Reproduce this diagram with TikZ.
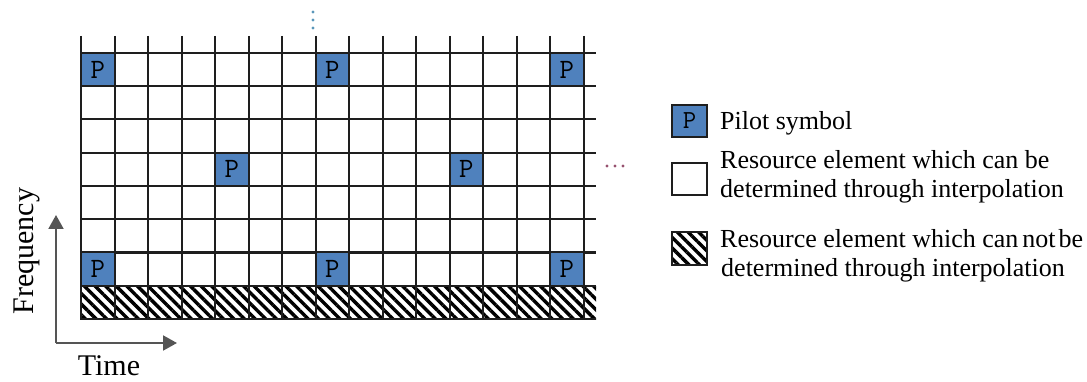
\documentclass[tikz,border=0pt]{standalone}
\usepackage{fontspec}
\setmainfont{Liberation Serif}
\usetikzlibrary{patterns.meta,arrows.meta}
\definecolor{pilotblue}{RGB}{79,129,189}
\definecolor{gridc}{RGB}{30,30,30}
\definecolor{axisc}{RGB}{85,85,85}
\definecolor{dotA}{RGB}{90,150,185}
\definecolor{dotB}{RGB}{150,80,110}
\tikzset{
  gridline/.style={draw=gridc,line width=2pt},
  pilot/.style={draw=gridc,line width=2pt,fill=pilotblue,minimum width=33.5pt,minimum height=33.25pt,inner sep=0pt,font=\ttfamily\fontsize{28}{28}\selectfont},
  hatch/.style={pattern={Lines[angle=-45,distance=7.5pt,line width=3.4pt]}},
  legbox/.style={draw=gridc,line width=2pt,minimum width=35pt,minimum height=32pt,inner sep=0pt},
  legtext/.style={anchor=base west,inner sep=0pt,font=\fontsize{26}{30}\selectfont},
  axislabel/.style={anchor=base,inner sep=0pt,font=\fontsize{30}{30}\selectfont},
  axis/.style={draw=axisc,line width=2pt,-{Triangle[length=14pt,width=15pt]}},
  dot/.style={circle,inner sep=0pt,minimum size=3.2pt}
}
\begin{document}
\begin{tikzpicture}[x=1pt,y=-1pt]
\useasboundingbox (0,0) rectangle (1087,382);
% hatched bottom row
\fill[hatch] (81,286) rectangle (596,319);
% grid
\foreach \i in {0,...,15} \draw[gridline] ({81+33.5*\i},36) -- ({81+33.5*\i},319);
\foreach \j in {0,...,8} \draw[gridline] (80,{53+33.25*\j}) -- (596,{53+33.25*\j});
% pilot symbols
\node[pilot] (p1) at (97.75,69.6) {P};
\node[pilot] (p2) at (332.25,69.6) {P};
\node[pilot] (p3) at (566.75,69.6) {P};
\node[pilot] (p4) at (231.75,169.4) {P};
\node[pilot] (p5) at (466.25,169.4) {P};
\node[pilot] (p6) at (97.75,269.1) {P};
\node[pilot] (p7) at (332.25,269.1) {P};
\node[pilot] (p8) at (566.75,269.1) {P};
% continuation dots
\node[dot,fill=dotA] (d1) at (313,12) {};
\node[dot,fill=dotA] (d2) at (313,20) {};
\node[dot,fill=dotA] (d3) at (313,28) {};
\node[dot,fill=dotB] (d4) at (607,166) {};
\node[dot,fill=dotB] (d5) at (615,166) {};
\node[dot,fill=dotB] (d6) at (623,166) {};
% axes
\coordinate (o) at (56,343);
\coordinate (ftip) at (56,215);
\coordinate (ttip) at (177,343);
\draw[axis] (o) -- (ftip);
\draw[axis] (o) -- (ttip);
\node[axislabel,rotate=90] (freq) at (33,251) {Frequency};
\node[axislabel] (time) at (109,375.5) {Time};
% legend
\node[legbox,fill=pilotblue,font=\ttfamily\fontsize{26}{26}\selectfont] (lp) at (689.5,121) {P};
\node[legbox,fill=white] (lw) at (689.5,179) {};
\node[legbox,hatch] (lh) at (689.5,248.5) {};
\node[legtext] (tp) at (720,129.5) {Pilot symbol};
\node[legtext] (tw1) at (720,169) {Resource element which can be};
\node[legtext] (tw2) at (720,198) {determined through interpolation};
\node[legtext] (th1) at (720,247.7) {Resource element which can\hspace{4pt}not\hspace{3pt}be};
\node[legtext] (th2) at (721,276.7) {determined through interpolation};
\end{tikzpicture}
\end{document}
